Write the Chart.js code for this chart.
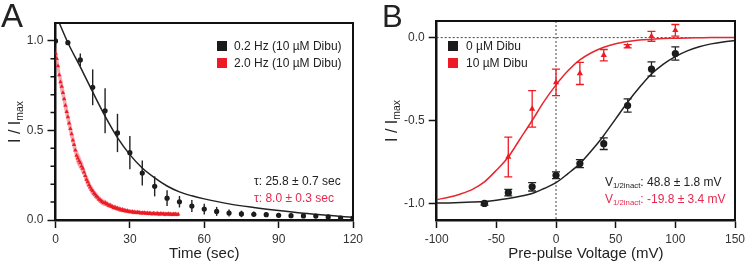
<!DOCTYPE html>
<html lang="en">
<head>
<meta charset="UTF-8">
<title>Dibucaine inactivation</title>
<script src="https://cdn.jsdelivr.net/npm/chart.js"></script>
<style>
    body { margin: 0; width: 750px; height: 266px; position: relative; overflow: hidden; background: #fff;
           font-family: "Liberation Sans", Arial, sans-serif; color: #222; }
    canvas { position: absolute; top: 0; }
    #chartA { left: 0; }
    #chartB { left: 375px; }
    .t { position: absolute; white-space: nowrap; line-height: 14px; font-size: 12px; }
    .big { position: absolute; line-height: 1; }
    .ytitle { position: absolute; font-size: 16px; white-space: nowrap; transform: translate(-50%, -50%) rotate(-90deg); }
    .ytitle sub, .t sub { font-size: 0.65em; line-height: 0; vertical-align: -0.3em; }
    .sq { position: absolute; width: 10px; height: 10px; }
    .red { color: #e4294f; }
</style>
</head>
<body>
<canvas id="chartA" width="375" height="266"></canvas>
<canvas id="chartB" width="375" height="266"></canvas>

<div class="big" style="left:1px;top:-1px;font-size:33px;">A</div>
<div class="big" style="left:382px;top:1px;font-size:31px;">B</div>
<div class="ytitle" style="left:15px;top:122px;">I / I<sub>max</sub></div>
<div class="ytitle" style="left:392px;top:121px;">I / I<sub>max</sub></div>

<div class="sq" style="left:217px;top:41px;background:#1a1a1a;"></div>
<div class="sq" style="left:217px;top:58px;background:#ed1c24;"></div>
<div class="t" style="left:234px;top:39px;">0.2 Hz (10 µM Dibu)</div>
<div class="t" style="left:234px;top:56px;">2.0 Hz (10 µM Dibu)</div>

<div class="sq" style="left:448px;top:41px;background:#1a1a1a;"></div>
<div class="sq" style="left:448px;top:58px;background:#ed1c24;"></div>
<div class="t" style="left:466px;top:39px;">0 µM Dibu</div>
<div class="t" style="left:466px;top:56px;">10 µM Dibu</div>

<div class="t" style="left:254px;top:174px;">τ: 25.8 ± 0.7 sec</div>
<div class="t red" style="left:254px;top:191px;">τ: 8.0 ± 0.3 sec</div>
<div class="t" style="left:605px;top:175px;">V<sub>1/2inact</sub>: 48.8 ± 1.8 mV</div>
<div class="t red" style="left:605px;top:192px;">V<sub>1/2inact</sub>: -19.8 ± 3.4 mV</div>

<script>
    // ---- panel A: recovery / use-dependent block ----
    const timeA = [0, 5, 10, 15, 20, 25, 30, 35, 40, 45, 50, 55, 60, 65, 70, 75, 80, 85, 90, 95, 100, 105, 110, 115, 120];
    const slowA = [1.0, 0.99, 0.894, 0.741, 0.61, 0.486, 0.376, 0.262, 0.188, 0.122, 0.102, 0.078, 0.061, 0.048, 0.039,
                   0.034, 0.032, 0.030, 0.026, 0.024, 0.023, 0.022, 0.017, 0.011, 0.011];
    const slowErrA = [0, 0.005, 0.036, 0.10, 0.126, 0.107, 0.093, 0.07, 0.056, 0.044, 0.032, 0.033, 0.03, 0.025, 0.02,
                      0.018, 0.015, 0.013, 0.012, 0.01, 0.008, 0.008, 0.006, 0.005, 0];
    const fitTimeA = [0, 5, 10, 15, 20, 25, 30, 35, 40, 45, 50, 55, 60, 70, 80, 90, 100, 110, 120];
    const fitSlowA = [1.15, 0.99, 0.855, 0.715, 0.58, 0.46, 0.365, 0.29, 0.235, 0.19, 0.157, 0.135, 0.118, 0.09,
                      0.07, 0.053, 0.038, 0.026, 0.015];
    const fastStep = 0.5; // sec between 2.0 Hz sweeps
    const fastA = [0.93, 0.90, 0.86, 0.81, 0.77, 0.745, 0.71, 0.675, 0.64, 0.605, 0.575, 0.54, 0.51, 0.48, 0.445, 0.42,
                   0.39, 0.36, 0.345, 0.33, 0.318, 0.30, 0.287, 0.266, 0.247, 0.226, 0.212, 0.196, 0.183, 0.17,
                   0.162, 0.149, 0.142, 0.133, 0.127, 0.116, 0.112, 0.104, 0.101, 0.095, 0.097, 0.09, 0.088, 0.081,
                   0.083, 0.076, 0.074, 0.069, 0.071, 0.064, 0.066, 0.06, 0.061, 0.055, 0.058, 0.052, 0.054, 0.049,
                   0.051, 0.046, 0.048, 0.044, 0.046, 0.042, 0.045, 0.041, 0.043, 0.04, 0.042, 0.038, 0.041, 0.037,
                   0.04, 0.036, 0.039, 0.035, 0.038, 0.036, 0.034, 0.038, 0.035, 0.033, 0.037, 0.034, 0.032, 0.036,
                   0.033, 0.035, 0.031, 0.034, 0.032, 0.035, 0.031, 0.033, 0.030, 0.034, 0.031, 0.033, 0.030, 0.032];
    const fastErrA = [0.04, 0.05, 0.052, 0.055, 0.054, 0.055, 0.053, 0.055, 0.052, 0.05, 0.052, 0.05, 0.048, 0.048, 0.046, 0.045,
                      0.043, 0.042, 0.04, 0.039, 0.037, 0.036, 0.035, 0.034, 0.033, 0.032, 0.031, 0.029, 0.028, 0.027,
                      0.025, 0.024, 0.023, 0.022, 0.021, 0.02, 0.02, 0.019, 0.019, 0.018, 0.018, 0.017, 0.017, 0.016,
                      0.016, 0.016, 0.015, 0.015, 0.015, 0.014, 0.014, 0.014, 0.014, 0.013, 0.013, 0.013, 0.013, 0.013,
                      0.012, 0.012, 0.012, 0.012, 0.012, 0.012, 0.012, 0.012, 0.012, 0.011, 0.011, 0.011, 0.011, 0.011,
                      0.011, 0.011, 0.011, 0.011, 0.011, 0.011, 0.011, 0.011, 0.011, 0.011, 0.011, 0.011, 0.011, 0.011,
                      0.011, 0.011, 0.011, 0.011, 0.011, 0.011, 0.011, 0.011, 0.011, 0.011, 0.011, 0.011, 0.011, 0.011];
    const xTicksA = [0, 30, 60, 90, 120];
    const yTicksA = [0, 0.5, 1.0];
    const yMinorA = [0.1, 0.2, 0.3, 0.4, 0.6, 0.7, 0.8, 0.9];

    // ---- panel B: steady-state inactivation ----
    const voltB = [-60, -40, -20, 0, 20, 40, 60, 80, 100];
    const ctrlB = [-1.0, -0.935, -0.90, -0.83, -0.76, -0.64, -0.41, -0.19, -0.096];
    const ctrlErrB = [0.01, 0.02, 0.025, 0.02, 0.024, 0.035, 0.04, 0.043, 0.04];
    const dibuVoltB = [-40, -20, 0, 20, 40, 60, 80, 100];
    const dibuB = [-0.72, -0.43, -0.27, -0.216, -0.106, -0.052, 0.008, 0.044];
    const dibuErrB = [0.12, 0.11, 0.08, 0.067, 0.034, 0.01, 0.03, 0.035];
    const fitVoltB = [-100, -90, -80, -70, -60, -50, -40, -30, -20, -10, 0, 10, 20, 30, 40, 50, 60, 70, 80, 90,
                      100, 110, 120, 130, 140, 150];
    const fitCtrlB = [-0.998, -0.997, -0.995, -0.992, -0.988, -0.981, -0.971, -0.957, -0.94, -0.91, -0.875, -0.82,
                      -0.76, -0.68, -0.59, -0.49, -0.39, -0.30, -0.22, -0.16, -0.115, -0.08, -0.055, -0.038, -0.026, -0.018];
    const fitDibuB = [-0.977, -0.963, -0.943, -0.915, -0.87, -0.80, -0.72, -0.61, -0.50, -0.385, -0.285, -0.20,
                      -0.135, -0.09, -0.058, -0.037, -0.024, -0.015, -0.01, -0.006, -0.004, -0.002, -0.001, 0, 0, 0];
    const xTicksB = [-100, -50, 0, 50, 100, 150];
    const yTicksB = [-1.0, -0.5, 0];

    const FONT = '"Liberation Sans", Arial, sans-serif';
    const BLACK = '#1a1a1a';
    const RED = '#ed1c24';

    const pts = (xs, ys) => xs.map((x, i) => ({ x: x, y: ys[i] }));

    // vertical error bars, drawn from the chart's own scales
    const errorBarPlugin = {
        id: 'errorBars',
        afterDatasetsDraw(chart) {
            const ctx = chart.ctx;
            const xs = chart.scales.x, ys = chart.scales.y;
            chart.data.datasets.forEach(ds => {
                if (!ds.errorBars) return;
                ctx.save();
                ctx.strokeStyle = ds.errorColor;
                ctx.lineWidth = ds.errorWidth || 1.3;
                ds.data.forEach((p, j) => {
                    const e = ds.errorBars[j];
                    if (!e) return;
                    const px = xs.getPixelForValue(p.x);
                    const y1 = ys.getPixelForValue(p.y - e);
                    const y2 = ys.getPixelForValue(p.y + e);
                    ctx.beginPath();
                    ctx.moveTo(px, y1);
                    ctx.lineTo(px, y2);
                    if (ds.capWidth) {
                        const c = ds.capWidth / 2;
                        ctx.moveTo(px - c, y1); ctx.lineTo(px + c, y1);
                        ctx.moveTo(px - c, y2); ctx.lineTo(px + c, y2);
                    }
                    ctx.stroke();
                });
                ctx.restore();
            });
        }
    };

    // top and right border of the plot box, plus optional extras
    const framePlugin = {
        id: 'frame',
        beforeDatasetsDraw(chart, args, opts) {
            const { ctx, chartArea: a } = chart;
            if (opts.zeroLines) {
                const x0 = chart.scales.x.getPixelForValue(0);
                const y0 = chart.scales.y.getPixelForValue(0);
                ctx.save();
                ctx.strokeStyle = '#444';
                ctx.lineWidth = 1;
                ctx.setLineDash([2, 2]);
                ctx.beginPath();
                ctx.moveTo(a.left, y0); ctx.lineTo(a.right, y0);
                ctx.moveTo(x0, a.top); ctx.lineTo(x0, a.bottom);
                ctx.stroke();
                ctx.restore();
            }
        },
        afterDraw(chart, args, opts) {
            const { ctx, chartArea: a } = chart;
            ctx.save();
            ctx.strokeStyle = '#111';
            ctx.lineWidth = 2;
            ctx.beginPath();
            ctx.moveTo(a.left, a.top);
            ctx.lineTo(a.right, a.top);
            ctx.lineTo(a.right, a.bottom);
            ctx.stroke();
            if (opts.minorY) {
                const ys = chart.scales.y;
                ctx.lineWidth = 1.5;
                ctx.beginPath();
                opts.minorY.forEach(v => {
                    const py = ys.getPixelForValue(v);
                    ctx.moveTo(a.left - 5, py);
                    ctx.lineTo(a.left, py);
                });
                ctx.stroke();
            }
            ctx.restore();
        }
    };

    function axis(min, max, ticks, fmt, size, title) {
        return {
            type: 'linear',
            min: min,
            max: max,
            afterBuildTicks: s => { s.ticks = ticks.map(v => ({ value: v })); },
            afterFit: size,
            border: { color: '#111', width: 2.5 },
            grid: { drawOnChartArea: false, tickLength: 8, tickColor: '#111', tickWidth: 1.5 },
            ticks: { color: '#333', font: { size: 12, family: FONT }, padding: 4, maxRotation: 0, callback: fmt },
            title: title ? { display: true, text: title, color: '#222', font: { size: 15, family: FONT }, padding: { top: 0, bottom: 3 } } : { display: false }
        };
    }

    function baseOptions(pad, scales, frame) {
        return {
            responsive: false,
            animation: false,
            layout: { padding: pad },
            plugins: { legend: { display: false }, tooltip: { enabled: false }, frame: frame },
            scales: scales
        };
    }

    const fastTimes = fastA.map((v, i) => i * fastStep);

    new Chart(document.getElementById('chartA'), {
        type: 'scatter',
        data: {
            datasets: [
                {
                    data: pts(timeA, slowA), order: 0, showLine: false,
                    pointStyle: 'circle', pointRadius: 2.6, backgroundColor: BLACK, borderColor: BLACK, borderWidth: 0,
                    errorBars: slowErrA, errorColor: '#222', errorWidth: 1.4
                },
                {
                    data: pts(fitTimeA, fitSlowA), order: 1, showLine: true, pointRadius: 0,
                    borderColor: '#222', borderWidth: 1.5, cubicInterpolationMode: 'monotone'
                },
                {
                    data: pts(fastTimes, fastA), order: 2, showLine: false,
                    pointStyle: 'triangle', pointRadius: 2.5, backgroundColor: RED, borderColor: RED, borderWidth: 0
                },
                {
                    data: pts(fastTimes, fastA.map((v, i) => v + fastErrA[i])), order: 3, showLine: true,
                    pointRadius: 0, borderWidth: 0, borderColor: 'rgba(0,0,0,0)', fill: false
                },
                {
                    data: pts(fastTimes, fastA.map((v, i) => v - fastErrA[i])), order: 4, showLine: true,
                    pointRadius: 0, borderWidth: 0, borderColor: 'rgba(0,0,0,0)',
                    fill: '-1', backgroundColor: 'rgba(240,110,125,0.6)'
                }
            ]
        },
        options: baseOptions({ left: 0, top: 23, right: 22, bottom: 0 }, {
            x: axis(0, 120, xTicksA, v => String(v), s => { s.height = 46; }, 'Time (sec)'),
            y: axis(0, 1.1, yTicksA, v => v.toFixed(1), s => { s.width = 55.5; }, null)
        }, { minorY: yMinorA }),
        plugins: [errorBarPlugin, framePlugin]
    });

    new Chart(document.getElementById('chartB'), {
        type: 'scatter',
        data: {
            datasets: [
                {
                    data: pts(voltB, ctrlB), order: 0, showLine: false,
                    pointStyle: 'circle', pointRadius: 3.6, backgroundColor: BLACK, borderColor: BLACK, borderWidth: 0,
                    errorBars: ctrlErrB, errorColor: '#222', errorWidth: 1.3, capWidth: 8
                },
                {
                    data: pts(dibuVoltB, dibuB), order: 1, showLine: false,
                    pointStyle: 'triangle', pointRadius: 3.6, backgroundColor: RED, borderColor: RED, borderWidth: 0,
                    errorBars: dibuErrB, errorColor: RED, errorWidth: 1.3, capWidth: 8
                },
                {
                    data: pts(fitVoltB, fitCtrlB), order: 2, showLine: true, pointRadius: 0,
                    borderColor: '#222', borderWidth: 1.5, cubicInterpolationMode: 'monotone'
                },
                {
                    data: pts(fitVoltB, fitDibuB), order: 3, showLine: true, pointRadius: 0,
                    borderColor: '#e8262e', borderWidth: 1.5, cubicInterpolationMode: 'monotone'
                }
            ]
        },
        options: baseOptions({ left: 0, top: 21, right: 15, bottom: 0 }, {
            x: axis(-100, 150, xTicksB, v => String(v), s => { s.height = 46; }, 'Pre-pulse Voltage (mV)'),
            y: axis(-1.1, 0.1, yTicksB, v => v.toFixed(1), s => { s.width = 61.7; }, null)
        }, { zeroLines: true }),
        plugins: [errorBarPlugin, framePlugin]
    });
</script>
</body>
</html>
